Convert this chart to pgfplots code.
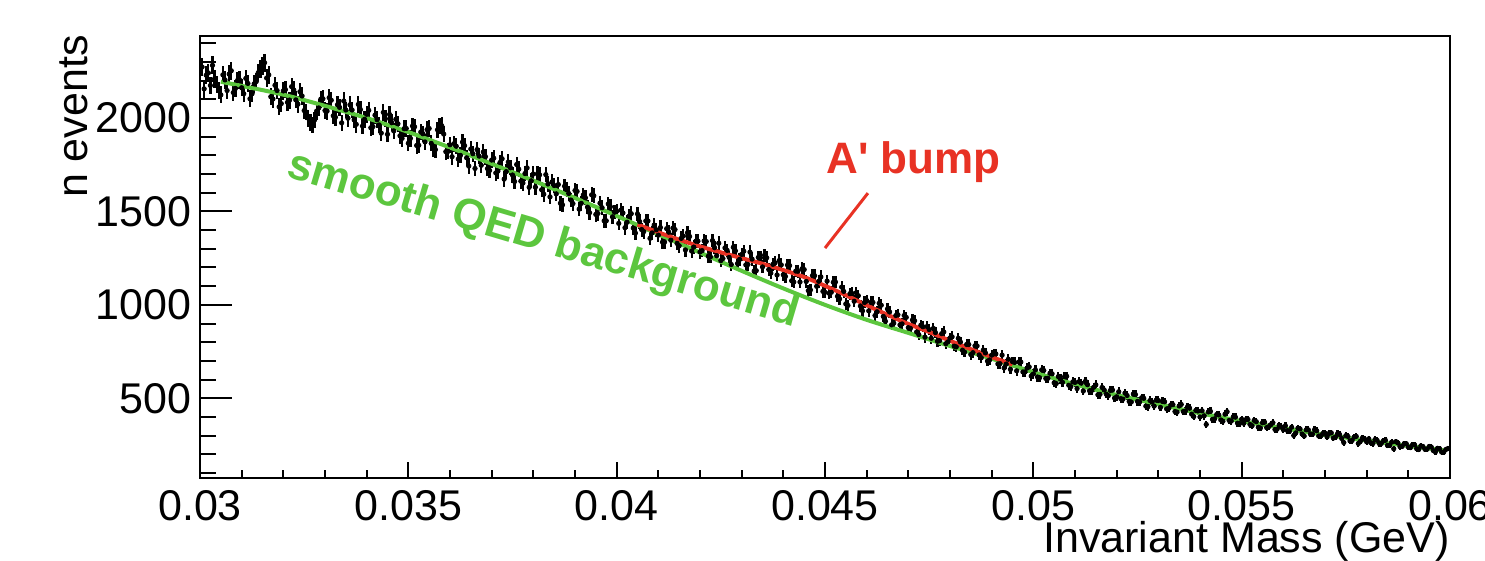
\documentclass[border=0pt]{standalone}
\usepackage{pgfplots}
\pgfplotsset{compat=1.18}
\usepackage{pgfplotstable}
\usepackage{fontspec}
\setmainfont{Liberation Sans}
\newfontfamily\plainsans{Liberation Sans}[Ligatures=TeXOff]
\definecolor{qedgreen}{RGB}{92,198,62}
\definecolor{bumpred}{RGB}{232,50,36}

\pgfplotstableread[row sep=\\]{
x y\\
0.03005 2273\\ 0.03015 2229\\ 0.03025 2174\\ 0.03035 2210\\ 0.03045 2146\\ 0.03055 2231\\ 0.03065 2147\\ 0.03075 2253\\ 0.03085 2158\\ 0.03095 2204\\
0.03105 2130\\ 0.03115 2185\\ 0.03125 2130\\ 0.03135 2195\\ 0.03145 2261\\ 0.03155 2296\\ 0.03165 2231\\ 0.03175 2102\\ 0.03185 2147\\ 0.03195 2077\\
0.03205 2152\\ 0.03215 2096\\ 0.03225 2150\\ 0.03235 2074\\ 0.03245 2118\\ 0.03255 2032\\ 0.03265 1976\\ 0.03275 1990\\ 0.03285 2054\\ 0.03295 2103\\
0.03305 2037\\ 0.03315 2095\\ 0.03325 2004\\ 0.03335 2057\\ 0.03345 2091\\ 0.03355 1999\\ 0.03365 2043\\ 0.03375 1966\\ 0.03385 2045\\ 0.03395 1993\\
0.03405 2041\\ 0.03415 1954\\ 0.03425 1991\\ 0.03435 1919\\ 0.03445 1996\\ 0.03455 2019\\ 0.03465 1931\\ 0.03475 1969\\ 0.03485 1891\\ 0.03495 1944\\
0.03505 1891\\ 0.03515 1953\\ 0.03525 1854\\ 0.03535 1916\\ 0.03545 1938\\ 0.03555 1864\\ 0.03565 1831\\ 0.03575 1958\\ 0.03585 1914\\ 0.03595 1821\\
0.03605 1793\\ 0.03615 1849\\ 0.03625 1800\\ 0.03635 1852\\ 0.03645 1743\\ 0.03655 1809\\ 0.03665 1831\\ 0.03675 1747\\ 0.03685 1793\\ 0.03695 1719\\
0.03705 1785\\ 0.03715 1716\\ 0.03725 1782\\ 0.03735 1713\\ 0.03745 1734\\ 0.03755 1660\\ 0.03765 1726\\ 0.03775 1652\\ 0.03785 1733\\ 0.03795 1664\\
0.03805 1630\\ 0.03815 1696\\ 0.03825 1592\\ 0.03835 1647\\ 0.03845 1658\\ 0.03855 1594\\ 0.03865 1544\\ 0.03875 1635\\ 0.03885 1596\\ 0.03895 1542\\
0.03905 1607\\ 0.03915 1543\\ 0.03925 1573\\ 0.03935 1493\\ 0.03945 1584\\ 0.03955 1489\\ 0.03965 1520\\ 0.03975 1450\\ 0.03985 1525\\ 0.03995 1496\\
0.04005 1436\\ 0.04015 1492\\ 0.04025 1442\\ 0.04035 1488\\ 0.04045 1384\\ 0.04055 1446\\ 0.04065 1392\\ 0.04075 1449\\ 0.04085 1385\\ 0.04095 1402\\
0.04105 1414\\ 0.04115 1336\\ 0.04125 1389\\ 0.04135 1411\\ 0.04145 1329\\ 0.04155 1356\\ 0.04165 1294\\ 0.04175 1366\\ 0.04185 1309\\ 0.04195 1341\\
0.04205 1290\\ 0.04215 1339\\ 0.04225 1257\\ 0.04235 1306\\ 0.04245 1330\\ 0.04255 1248\\ 0.04265 1292\\ 0.04275 1216\\ 0.04285 1289\\ 0.04295 1243\\
0.04305 1287\\ 0.04315 1216\\ 0.04325 1245\\ 0.04335 1183\\ 0.04345 1252\\ 0.04355 1266\\ 0.04365 1189\\ 0.04375 1217\\ 0.04385 1160\\ 0.04395 1214\\
0.04405 1152\\ 0.04415 1210\\ 0.04425 1122\\ 0.04435 1180\\ 0.04445 1193\\ 0.04455 1125\\ 0.04465 1080\\ 0.04475 1156\\ 0.04485 1126\\ 0.04495 1072\\
0.04505 1127\\ 0.04515 1067\\ 0.04525 1122\\ 0.04535 1032\\ 0.04545 1072\\ 0.04555 997\\ 0.04565 1061\\ 0.04575 1065\\ 0.04585 994\\ 0.04595 1013\\
0.04605 968\\ 0.04615 1013\\ 0.04625 963\\ 0.04635 998\\ 0.04645 912\\ 0.04655 962\\ 0.04665 902\\ 0.04675 947\\ 0.04685 898\\ 0.04695 933\\
0.04705 874\\ 0.04715 915\\ 0.04725 841\\ 0.04735 883\\ 0.04745 884\\ 0.04755 821\\ 0.04765 852\\ 0.04775 808\\ 0.04785 855\\ 0.04795 802\\
0.04805 829\\ 0.04815 775\\ 0.04825 801\\ 0.04835 747\\ 0.04845 788\\ 0.04855 744\\ 0.04865 780\\ 0.04875 717\\ 0.04885 743\\ 0.04895 705\\
0.04905 737\\ 0.04915 684\\ 0.04925 731\\ 0.04935 683\\ 0.04945 655\\ 0.04955 692\\ 0.04965 694\\ 0.04975 641\\ 0.04985 662\\ 0.04995 619\\
0.05005 652\\ 0.05015 610\\ 0.05025 649\\ 0.05035 607\\ 0.05045 631\\ 0.05055 579\\ 0.05065 603\\ 0.05075 616\\ 0.05085 570\\ 0.05095 588\\
0.05105 552\\ 0.05115 581\\ 0.05125 591\\ 0.05135 540\\ 0.05145 559\\ 0.05155 519\\ 0.05165 558\\ 0.05175 522\\ 0.05185 542\\ 0.05195 501\\
0.05205 535\\ 0.05215 495\\ 0.05225 515\\ 0.05235 480\\ 0.05245 520\\ 0.05255 480\\ 0.05265 500\\ 0.05275 455\\ 0.05285 480\\ 0.05295 490\\
0.05305 451\\ 0.05315 481\\ 0.05325 446\\ 0.05335 466\\ 0.05345 426\\ 0.05355 467\\ 0.05365 432\\ 0.05375 447\\ 0.05385 402\\ 0.05395 432\\
0.05405 433\\ 0.05415 360\\ 0.05425 430\\ 0.05435 390\\ 0.05445 411\\ 0.05455 377\\ 0.05465 428\\ 0.05475 378\\ 0.05485 399\\ 0.05495 365\\
0.05505 366\\ 0.05515 387\\ 0.05525 353\\ 0.05535 375\\ 0.05545 341\\ 0.05555 372\\ 0.05565 348\\ 0.05575 369\\ 0.05585 335\\ 0.05595 347\\
0.05605 353\\ 0.05615 325\\ 0.05625 301\\ 0.05635 340\\ 0.05645 309\\ 0.05655 331\\ 0.05665 309\\ 0.05675 332\\ 0.05685 298\\ 0.05695 312\\
0.05705 293\\ 0.05715 315\\ 0.05725 292\\ 0.05735 306\\ 0.05745 263\\ 0.05755 296\\ 0.05765 274\\ 0.05775 296\\ 0.05785 270\\ 0.05795 281\\
0.05805 283\\ 0.05815 258\\ 0.05825 275\\ 0.05835 258\\ 0.05845 275\\ 0.05855 248\\ 0.05865 230\\ 0.05875 261\\ 0.05885 242\\ 0.05895 257\\
0.05905 236\\ 0.05915 251\\ 0.05925 226\\ 0.05935 242\\ 0.05945 228\\ 0.05955 239\\ 0.05965 213\\ 0.05975 230\\ 0.05985 212\\ 0.05995 231\\
}\histdata

\pgfplotstableread[row sep=\\]{
x y\\
0.0301 2156\\ 0.0302 2241\\ 0.0303 2282\\ 0.0304 2178\\ 0.0305 2124\\ 0.0306 2204\\ 0.0307 2235\\ 0.0308 2136\\ 0.0309 2201\\ 0.0310 2162\\
0.0311 2212\\ 0.0312 2103\\ 0.0313 2183\\ 0.0314 2243\\ 0.0315 2279\\ 0.0316 2214\\ 0.0317 2114\\ 0.0318 2175\\ 0.0319 2060\\ 0.0320 2145\\
0.0321 2084\\ 0.0322 2168\\ 0.0323 2097\\ 0.0324 2141\\ 0.0325 2040\\ 0.0326 1999\\ 0.0327 1963\\ 0.0328 2037\\ 0.0329 2101\\ 0.0330 2040\\
0.0331 2109\\ 0.0332 2012\\ 0.0333 2071\\ 0.0334 1974\\ 0.0335 2043\\ 0.0336 2071\\ 0.0337 1990\\ 0.0338 2073\\ 0.0339 1957\\ 0.0340 2020\\
0.0341 1948\\ 0.0342 2015\\ 0.0343 1963\\ 0.0344 2030\\ 0.0345 1913\\ 0.0346 1975\\ 0.0347 1993\\ 0.0348 1905\\ 0.0349 1943\\ 0.0350 1865\\
0.0351 1957\\ 0.0352 1853\\ 0.0353 1925\\ 0.0354 1872\\ 0.0355 1944\\ 0.0356 1835\\ 0.0357 1937\\ 0.0358 1959\\ 0.0359 1820\\ 0.0360 1857\\
0.0361 1863\\ 0.0362 1780\\ 0.0363 1871\\ 0.0364 1787\\ 0.0365 1834\\ 0.0366 1730\\ 0.0367 1796\\ 0.0368 1818\\ 0.0369 1729\\ 0.0370 1775\\
0.0371 1706\\ 0.0372 1762\\ 0.0373 1673\\ 0.0374 1764\\ 0.0375 1695\\ 0.0376 1751\\ 0.0377 1662\\ 0.0378 1703\\ 0.0379 1629\\ 0.0380 1700\\
0.0381 1701\\ 0.0382 1616\\ 0.0383 1697\\ 0.0384 1578\\ 0.0385 1639\\ 0.0386 1644\\ 0.0387 1535\\ 0.0388 1616\\ 0.0389 1561\\ 0.0390 1612\\
0.0391 1512\\ 0.0392 1588\\ 0.0393 1523\\ 0.0394 1589\\ 0.0395 1484\\ 0.0396 1544\\ 0.0397 1450\\ 0.0398 1540\\ 0.0399 1471\\ 0.0400 1501\\
0.0401 1507\\ 0.0402 1413\\ 0.0403 1475\\ 0.0404 1411\\ 0.0405 1487\\ 0.0406 1403\\ 0.0407 1449\\ 0.0408 1356\\ 0.0409 1427\\ 0.0410 1373\\
0.0411 1336\\ 0.0412 1408\\ 0.0413 1346\\ 0.0414 1403\\ 0.0415 1316\\ 0.0416 1368\\ 0.0417 1386\\ 0.0418 1288\\ 0.0419 1341\\ 0.0420 1283\\
0.0421 1342\\ 0.0422 1260\\ 0.0423 1344\\ 0.0424 1263\\ 0.0425 1237\\ 0.0426 1305\\ 0.0427 1254\\ 0.0428 1308\\ 0.0429 1221\\ 0.0430 1270\\
0.0431 1214\\ 0.0432 1282\\ 0.0433 1181\\ 0.0434 1254\\ 0.0435 1203\\ 0.0436 1252\\ 0.0437 1170\\ 0.0438 1224\\ 0.0439 1237\\ 0.0440 1161\\
0.0441 1213\\ 0.0442 1129\\ 0.0443 1181\\ 0.0444 1122\\ 0.0445 1189\\ 0.0446 1076\\ 0.0447 1157\\ 0.0448 1099\\ 0.0449 1150\\ 0.0450 1067\\
0.0451 1062\\ 0.0452 1121\\ 0.0453 1046\\ 0.0454 1095\\ 0.0455 1005\\ 0.0456 1060\\ 0.0457 1019\\ 0.0458 1049\\ 0.0459 968\\ 0.0460 1023\\
0.0461 1013\\ 0.0462 943\\ 0.0463 1008\\ 0.0464 938\\ 0.0465 978\\ 0.0466 893\\ 0.0467 943\\ 0.0468 893\\ 0.0469 943\\ 0.0470 878\\
0.0471 919\\ 0.0472 855\\ 0.0473 891\\ 0.0474 827\\ 0.0475 868\\ 0.0476 874\\ 0.0477 805\\ 0.0478 846\\ 0.0479 792\\ 0.0480 823\\
0.0481 779\\ 0.0482 821\\ 0.0483 757\\ 0.0484 788\\ 0.0485 734\\ 0.0486 781\\ 0.0487 732\\ 0.0488 758\\ 0.0489 699\\ 0.0490 731\\
0.0491 738\\ 0.0492 685\\ 0.0493 662\\ 0.0494 709\\ 0.0495 696\\ 0.0496 647\\ 0.0497 694\\ 0.0498 641\\ 0.0499 668\\ 0.0500 630\\
0.0501 614\\ 0.0502 652\\ 0.0503 606\\ 0.0504 634\\ 0.0505 583\\ 0.0506 616\\ 0.0507 585\\ 0.0508 618\\ 0.0509 562\\ 0.0510 585\\
0.0511 589\\ 0.0512 539\\ 0.0513 573\\ 0.0514 542\\ 0.0515 572\\ 0.0516 521\\ 0.0517 545\\ 0.0518 514\\ 0.0519 544\\ 0.0520 508\\
0.0521 498\\ 0.0522 528\\ 0.0523 483\\ 0.0524 523\\ 0.0525 483\\ 0.0526 503\\ 0.0527 458\\ 0.0528 488\\ 0.0529 458\\ 0.0530 488\\
0.0531 483\\ 0.0532 443\\ 0.0533 464\\ 0.0534 429\\ 0.0535 459\\ 0.0536 429\\ 0.0537 454\\ 0.0538 415\\ 0.0539 435\\ 0.0540 400\\
0.0541 406\\ 0.0542 427\\ 0.0543 387\\ 0.0544 413\\ 0.0545 384\\ 0.0546 415\\ 0.0547 381\\ 0.0548 401\\ 0.0549 367\\ 0.0550 388\\
0.0551 386\\ 0.0552 360\\ 0.0553 382\\ 0.0554 345\\ 0.0555 369\\ 0.0556 343\\ 0.0557 359\\ 0.0558 333\\ 0.0559 356\\ 0.0560 332\\
0.0561 327\\ 0.0562 345\\ 0.0563 315\\ 0.0564 336\\ 0.0565 298\\ 0.0566 331\\ 0.0567 308\\ 0.0568 326\\ 0.0569 299\\ 0.0570 313\\
0.0571 312\\ 0.0572 287\\ 0.0573 310\\ 0.0574 285\\ 0.0575 300\\ 0.0576 272\\ 0.0577 292\\ 0.0578 258\\ 0.0579 288\\ 0.0580 267\\
0.0581 262\\ 0.0582 279\\ 0.0583 258\\ 0.0584 272\\ 0.0585 248\\ 0.0586 265\\ 0.0587 268\\ 0.0588 241\\ 0.0589 257\\ 0.0590 239\\
0.0591 251\\ 0.0592 230\\ 0.0593 245\\ 0.0594 227\\ 0.0595 242\\ 0.0596 220\\ 0.0597 232\\ 0.0598 212\\ 0.0599 226\\
}\histdataB

\begin{document}
\begin{tikzpicture}
\useasboundingbox (-100pt,-41.65pt) rectangle (642.5pt,238.85pt);
\pgfplotsset{
  rootframe/.style={
    at={(0,0)}, anchor=south west,
    scale only axis, width=625pt, height=220.85pt,
    xmin=0.03, xmax=0.06, ymin=75, ymax=2439,
    scaled x ticks=false, scaled y ticks=false,
    axis line style={line width=1pt, black},
    tick style={line width=1pt, black},
    tick align=inside,
    /pgf/number format/assume math mode=true,
  },
  histo/.style={only marks, mark=*, mark size=1.1pt, black,
    error bars/.cd, y dir=both, y explicit, error mark=none,
    error bar style={line width=1.1pt, black}},
}
\begin{axis}[rootframe,
  xtick={0.03,0.035,0.04,0.045,0.05,0.055,0.06},
  xticklabels={0.03,0.035,0.04,0.045,0.05,0.055,0.06},
  minor xtick={0.031,0.032,0.033,0.034,0.036,0.037,0.038,0.039,0.041,0.042,0.043,0.044,0.046,0.047,0.048,0.049,0.051,0.052,0.053,0.054,0.056,0.057,0.058,0.059},
  xtick pos=left,
  ytick=\empty,
  major tick length=7.7pt, minor tick length=3.8pt,
  xticklabel style={font=\fontsize{21.5}{25}\selectfont, inner sep=0pt, anchor=north, yshift=-6pt},
]
\addplot[histo] table[x=x, y=y, y error expr={sqrt(\thisrow{y})}] {\histdata};
\addplot[histo] table[x=x, y=y, y error expr={sqrt(\thisrow{y})}] {\histdataB};
\addplot[qedgreen, line width=2pt, smooth, no marks] coordinates {
(0.0305,2194) (0.031,2172) (0.032,2125) (0.033,2065) (0.034,2000) (0.035,1925)
(0.036,1842) (0.037,1755) (0.038,1665) (0.039,1572) (0.040,1476) (0.041,1378)
(0.042,1280) (0.043,1182) (0.044,1088) (0.045,1000) (0.046,920) (0.047,850)
(0.048,780) (0.049,712) (0.050,640) (0.051,575) (0.052,518) (0.053,468)
(0.054,420) (0.055,378) (0.056,340) (0.057,305) (0.058,274) (0.059,245) (0.0599,220)
};
\addplot[bumpred, line width=2pt, smooth, no marks] coordinates {
(0.0405,1430) (0.041,1388) (0.0415,1349) (0.042,1313) (0.0425,1281) (0.043,1250)
(0.0435,1220) (0.044,1186) (0.0445,1149) (0.045,1102) (0.0455,1052) (0.046,998)
(0.0465,947) (0.047,898) (0.0475,855) (0.048,808) (0.0485,763) (0.049,721) (0.0495,681)
};
\draw[bumpred, line width=1.5pt] (axis cs:0.045,1304) -- (axis cs:0.04603,1598);
\node[anchor=base west, inner sep=0pt, text=bumpred, font=\plainsans\fontsize{22}{26}\selectfont\bfseries]
  at (axis cs:0.045024,1705) {A' bump};
\node[anchor=base west, inner sep=0pt, rotate=-16.5, text=qedgreen, font=\fontsize{22}{26}\selectfont\bfseries]
  at (axis cs:0.03204,1689) {smooth QED background};
\end{axis}
\begin{axis}[rootframe,
  xtick=\empty,
  ytick={500,1000,1500,2000},
  yticklabels={500,1000,1500,2000},
  minor ytick={100,200,300,400,600,700,800,900,1100,1200,1300,1400,1600,1700,1800,1900,2100,2200,2300,2400},
  ytick pos=left,
  major tick length=16pt, minor tick length=8pt,
  yticklabel style={font=\fontsize{21.5}{25}\selectfont, inner sep=0pt, anchor=east, xshift=-4pt},
]
\end{axis}
\node[anchor=base east, inner sep=0pt, rotate=90, font=\fontsize{21.5}{25}\selectfont] at (-56pt,221.35pt) {n events};
\node[anchor=base east, inner sep=0pt, font=\fontsize{21.5}{25}\selectfont] at (625pt,-37.65pt) {Invariant Mass (GeV)};
\end{tikzpicture}
\end{document}
